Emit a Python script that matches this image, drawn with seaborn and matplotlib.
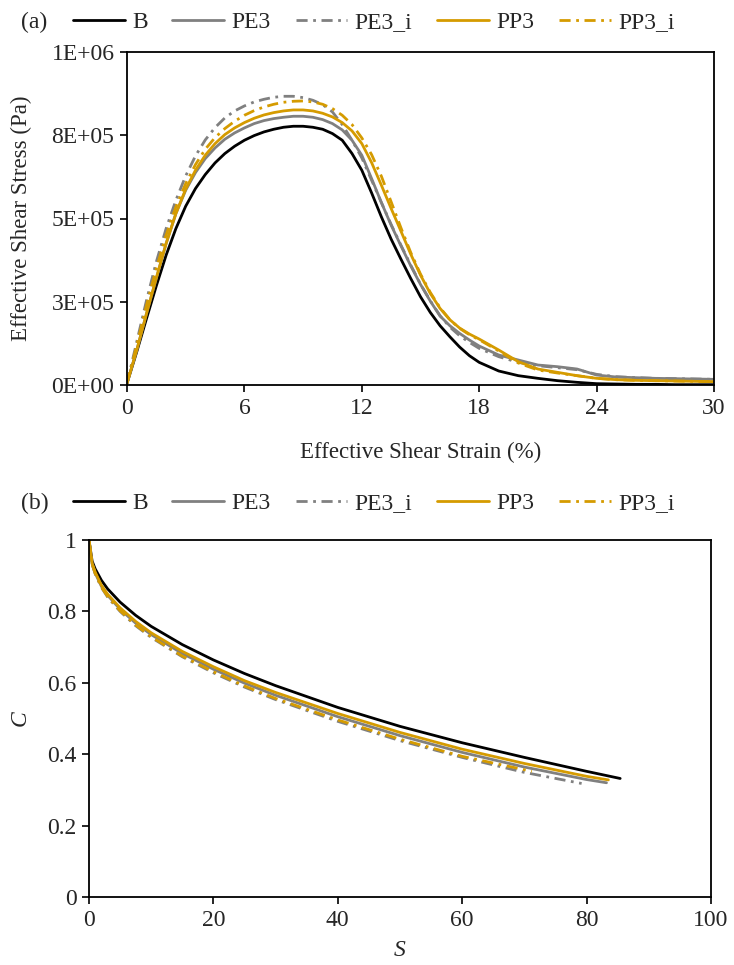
import numpy as np
import pandas as pd
import seaborn as sns
import matplotlib.pyplot as plt

# --- data ---
names = ["B", "PE3", "PE3_i", "PP3", "PP3_i"]

# panel (a): effective shear stress (kPa) vs effective shear strain (%)
strain = [0, 0.5, 1, 1.5, 2, 2.5, 3, 3.5, 4, 4.5, 5, 5.5, 6, 6.5, 7, 7.5, 8, 8.5, 9,
          9.5, 10, 10.5, 11, 11.5, 12, 12.5, 13, 13.5, 14, 14.5, 15, 15.5, 16, 16.5,
          17, 17.5, 18, 19, 20, 21, 22, 23, 24, 25, 26, 27, 28, 29, 30]
stress_B = [5, 100, 200, 298, 390, 470, 537, 590, 632,
            667, 695, 717, 735, 749, 760, 768, 774, 777, 777,
            774, 768, 755, 735, 695, 645, 577, 505, 438, 378,
            320, 265, 218, 178, 145, 114, 88, 68,
            42, 28, 20, 13, 8, 4, 3, 2, 2, 1, 1, 1]
stress_PE3 = [5, 105, 215, 320, 425, 515, 585, 638, 680,
              712, 738, 757, 772, 785, 794, 800, 804, 807, 807,
              804, 797, 785, 766, 735, 690, 620, 548, 480, 418,
              358, 302, 252, 207, 178, 155, 135, 117,
              90, 75, 60, 55, 48, 30, 24, 22, 20, 19, 18, 17]
stress_PE3_i = [5, 130, 255, 370, 470, 555, 628, 688, 736,
                773, 802, 823, 838, 850, 858, 864, 867, 867, 863,
                855, 842, 820, 782, 735, 682, 615, 548, 482, 420,
                360, 303, 253, 208, 174, 148, 128, 110,
                85, 68, 58, 52, 46, 32, 25, 22, 20, 19, 18, 17]
stress_PP3 = [5, 105, 215, 322, 425, 515, 588, 645, 690,
              725, 752, 772, 788, 801, 811, 818, 823, 826, 826,
              823, 816, 805, 788, 763, 725, 668, 600, 530, 462,
              393, 330, 275, 230, 196, 171, 153, 138,
              105, 70, 48, 38, 28, 20, 16, 14, 13, 12, 11, 10]
stress_PP3_i = [5, 120, 240, 350, 450, 535, 605, 662, 708,
                743, 770, 792, 810, 824, 835, 843, 849, 852, 853,
                850, 843, 830, 810, 782, 742, 692, 627, 550, 472,
                398, 333, 278, 232, 196, 170, 151, 136,
                102, 66, 45, 36, 28, 20, 16, 14, 13, 12, 11, 10]

# panel (b): C vs S
s_B = [0, 0.5, 1, 2, 3, 5, 7.5, 10, 15, 20, 25, 30, 40, 50, 60, 70, 80, 85.4]
c_B = [1, 0.941, 0.919, 0.887, 0.863, 0.826, 0.789, 0.758, 0.707, 0.664, 0.626, 0.592,
       0.531, 0.478, 0.432, 0.391, 0.352, 0.332]
s_PE3 = [0, 0.5, 1, 2, 3, 5, 7.5, 10, 15, 20, 25, 30, 40, 50, 60, 70, 80, 83.2]
c_PE3 = [1, 0.933, 0.907, 0.870, 0.845, 0.806, 0.767, 0.735, 0.682, 0.638, 0.599, 0.565,
         0.505, 0.452, 0.405, 0.364, 0.329, 0.320]
s_PE3_i = [0, 0.5, 1, 2, 3, 5, 7.5, 10, 15, 20, 25, 30, 40, 50, 60, 70, 79.2]
c_PE3_i = [1, 0.932, 0.905, 0.867, 0.840, 0.800, 0.760, 0.727, 0.673, 0.628, 0.588, 0.553,
           0.492, 0.438, 0.391, 0.349, 0.318]
s_PP3 = [0, 0.5, 1, 2, 3, 5, 7.5, 10, 15, 20, 25, 30, 40, 50, 60, 70, 80, 83.5]
c_PP3 = [1, 0.935, 0.910, 0.873, 0.848, 0.810, 0.772, 0.740, 0.688, 0.645, 0.606, 0.573,
         0.514, 0.461, 0.414, 0.374, 0.338, 0.328]
s_PP3_i = [0, 0.5, 1, 2, 3, 5, 7.5, 10, 15, 20, 25, 30, 40, 50, 60, 71.2]
c_PP3_i = [1, 0.933, 0.906, 0.868, 0.842, 0.802, 0.762, 0.729, 0.675, 0.631, 0.591, 0.556,
           0.496, 0.442, 0.394, 0.352]

stress_ticks = [0, 2.5e5, 5e5, 7.5e5, 1e6]
stress_ticklabels = ["0E+00", "3E+05", "5E+05", "8E+05", "1E+06"]
strain_ticks = [0, 6, 12, 18, 24, 30]
s_ticks = [0, 20, 40, 60, 80, 100]
c_ticks = [0, 0.2, 0.4, 0.6, 0.8, 1]
c_ticklabels = ["0", "0.2", "0.4", "0.6", "0.8", "1"]

# --- long-form tables ---
stress_all = [stress_B, stress_PE3, stress_PE3_i, stress_PP3, stress_PP3_i]
df_a = pd.concat([
    pd.DataFrame({"strain": strain, "stress": np.array(v) * 1e3, "sample": n})
    for n, v in zip(names, stress_all)
], ignore_index=True)

s_all = [s_B, s_PE3, s_PE3_i, s_PP3, s_PP3_i]
c_all = [c_B, c_PE3, c_PE3_i, c_PP3, c_PP3_i]
df_b = pd.concat([
    pd.DataFrame({"S": s, "C": c, "sample": n})
    for n, s, c in zip(names, s_all, c_all)
], ignore_index=True)

# --- style ---
sns.set_theme(style="ticks")
plt.rcParams["font.family"] = ["Liberation Serif", "DejaVu Serif"]
plt.rcParams["font.size"] = 17

grey = "#808080"
gold = "#D59B00"
palette = {"B": "black", "PE3": grey, "PE3_i": grey, "PP3": gold, "PP3_i": gold}
dashdot = (4.0, 2.0, 1.0, 2.0)
dashes = {"B": "", "PE3": "", "PE3_i": dashdot, "PP3": "", "PP3_i": dashdot}

fig = plt.figure(figsize=(7.34, 9.65), dpi=100)
W, H = 734, 965
ax_a = fig.add_axes([127 / W, 1 - 385 / H, (714 - 127) / W, (385 - 52) / H])
ax_b = fig.add_axes([89 / W, 1 - 897 / H, (711 - 89) / W, (897 - 540) / H])


def draw(ax, data, x, y):
    sns.lineplot(data=data, x=x, y=y, hue="sample", style="sample",
                 hue_order=names, style_order=names, palette=palette,
                 dashes=dashes, estimator=None, sort=False, linewidth=2.0,
                 legend=False, ax=ax)
    for sp in ax.spines.values():
        sp.set_visible(True)
        sp.set_color("black")
        sp.set_linewidth(1.3)
    ax.tick_params(direction="out", length=5, width=1.2, color="black",
                   labelsize=17, pad=4)


draw(ax_a, df_a, "strain", "stress")
ax_a.set_xlim(0, 30)
ax_a.set_ylim(0, 1e6)
ax_a.set_xticks(strain_ticks)
ax_a.set_yticks(stress_ticks)
ax_a.set_yticklabels(stress_ticklabels)
ax_a.set_xlabel("Effective Shear Strain (%)", fontsize=16.5, labelpad=17)
ax_a.set_ylabel("Effective Shear Stress (Pa)", fontsize=16.5, labelpad=14)

draw(ax_b, df_b, "S", "C")
ax_b.set_xlim(0, 100)
ax_b.set_ylim(0, 1)
ax_b.set_xticks(s_ticks)
ax_b.set_yticks(c_ticks)
ax_b.set_yticklabels(c_ticklabels)
ax_b.set_xlabel("S", fontsize=17, style="italic", labelpad=7)
ax_b.set_ylabel("C", fontsize=17, style="italic", labelpad=12)

# legends on top of each panel
for ax, tag, yc in [(ax_a, "(a)", 22), (ax_b, "(b)", 503)]:
    handles = ax.get_lines()[:5]
    ax.legend(handles, names, loc="center left", ncol=5, frameon=False,
              bbox_to_anchor=(73 / W, 1 - yc / H), bbox_transform=fig.transFigure,
              borderpad=0, borderaxespad=0, handlelength=2.2, handletextpad=0.3,
              columnspacing=1.05, fontsize=17)
    fig.text(21 / W, 1 - yc / H, tag, va="center", ha="left", fontsize=17)

fig.savefig("out.png", dpi=100)
